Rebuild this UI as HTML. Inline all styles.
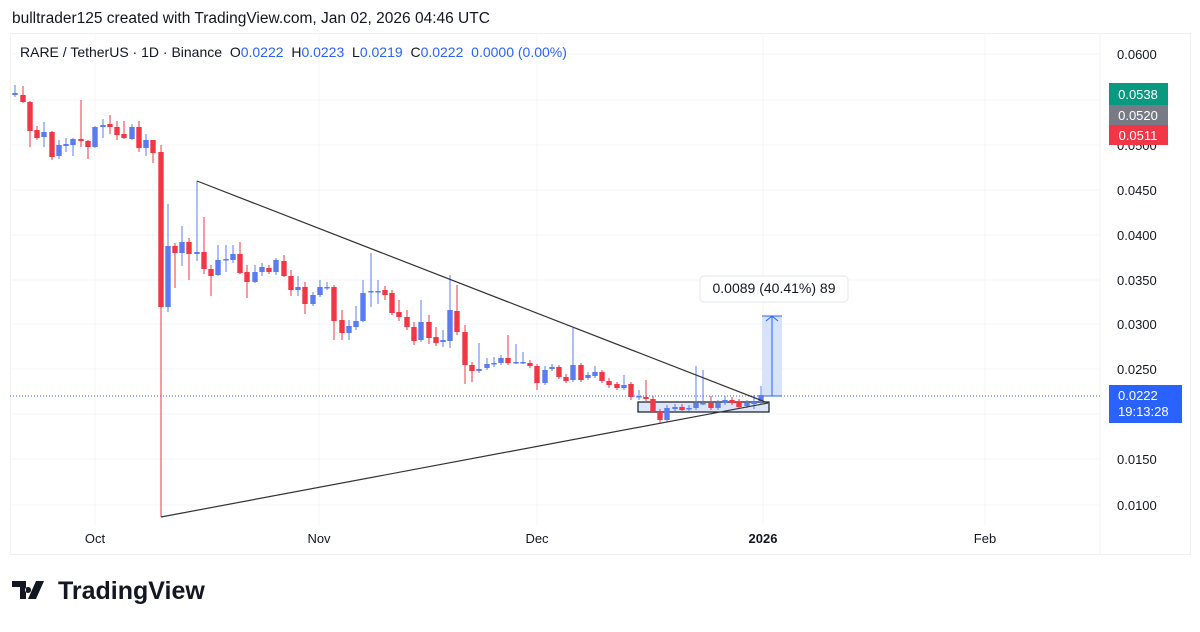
<!DOCTYPE html>
<html><head><meta charset="utf-8"><style>
body{margin:0;background:#fff;font-family:"Liberation Sans",sans-serif;}
svg text{font-family:"Liberation Sans",sans-serif;white-space:pre;}
</style></head><body>
<svg id="s" width="1200" height="627" xmlns="http://www.w3.org/2000/svg">
<rect width="1200" height="627" fill="#fff"/>
<text x="12" y="23" font-size="15.5" fill="#131722">bulltrader125 created with TradingView.com, Jan 02, 2026 04:46 UTC</text>
<rect x="10.5" y="33.5" width="1180" height="521" fill="#fff" stroke="#eef0f3"/>
<line x1="1100" y1="34" x2="1100" y2="554" stroke="#eef0f3"/>
<g id="grid" stroke="#f3f4f6"></g>
<text x="20" y="57" font-size="14" fill="#131722">RARE / TetherUS · 1D · Binance&#160;&#160;O<tspan fill="#2962ff">0.0222</tspan>&#160;&#160;H<tspan fill="#2962ff">0.0223</tspan>&#160;&#160;L<tspan fill="#2962ff">0.0219</tspan>&#160;&#160;C<tspan fill="#2962ff">0.0222</tspan>&#160;&#160;<tspan fill="#2962ff">0.0000 (0.00%)</tspan></text>
<g id="ax" font-size="13" fill="#131722"></g>
<line x1="10" y1="396" x2="1100" y2="396" stroke="#2962ff" stroke-dasharray="1,2" stroke-width="1"/>
<rect x="638" y="402" width="131" height="10" fill="#dbe6fb" stroke="#131722" stroke-width="1.2"/>
<rect x="762" y="316" width="20" height="80" fill="#d6e3fb"/>
<line x1="772" y1="316" x2="772" y2="396" stroke="#2962ff"/>
<path d="M766 321 L772 316 L778 321" fill="none" stroke="#2962ff"/>
<line x1="762" y1="316" x2="782" y2="316" stroke="#2962ff"/>
<line x1="762" y1="396" x2="782" y2="396" stroke="#2962ff"/>
<g id="c"></g>
<line x1="197" y1="181" x2="768" y2="403" stroke="#333" stroke-width="1.2"/>
<line x1="161" y1="517" x2="768" y2="403" stroke="#333" stroke-width="1.2"/>
<rect x="700" y="276" width="148" height="26" rx="4" fill="#fff" stroke="#e5e7eb"/>
<text x="774" y="293" font-size="14" fill="#131722" text-anchor="middle">0.0089 (40.41%) 89</text>
<rect x="1109" y="83" width="59" height="22" fill="#089981"/>
<text x="1138" y="99" font-size="13" fill="#fff" text-anchor="middle">0.0538</text>
<rect x="1109" y="105" width="59" height="20" fill="#787b86"/>
<text x="1138" y="120" font-size="13" fill="#fff" text-anchor="middle">0.0520</text>
<rect x="1109" y="125" width="59" height="20" fill="#f23645"/>
<text x="1138" y="140" font-size="13" fill="#fff" text-anchor="middle">0.0511</text>
<rect x="1109" y="385" width="73" height="38" fill="#2962ff"/>
<text x="1118" y="400" font-size="13" fill="#fff">0.0222</text>
<text x="1118" y="416" font-size="13" fill="#fff">19:13:28</text>
<text x="95" y="543" font-size="13" fill="#131722" text-anchor="middle">Oct</text>
<text x="319" y="543" font-size="13" fill="#131722" text-anchor="middle">Nov</text>
<text x="537" y="543" font-size="13" fill="#131722" text-anchor="middle">Dec</text>
<text x="763" y="543" font-size="13" fill="#131722" text-anchor="middle" font-weight="bold">2026</text>
<text x="985" y="543" font-size="13" fill="#131722" text-anchor="middle">Feb</text>
<path d="M12 581 h14 v18 h-6 v-12 h-8z M28 587 a3 3 0 1 0 0.1 0z M36 581 h8 l-8 18 h-8z" fill="#131722"/>
<text x="58" y="599" font-size="25" font-weight="bold" fill="#131722">TradingView</text>
</svg>
<script>
var NS="http://www.w3.org/2000/svg";
function el(p,t,a){var e=document.createElementNS(NS,t);for(var k in a)e.setAttribute(k,a[k]);p.appendChild(e);return e;}
var g=document.getElementById('grid'),ax=document.getElementById('ax');
[[54,"0.0600"],[145,"0.0500"],[190,"0.0450"],[235,"0.0400"],[280,"0.0350"],[324,"0.0300"],[369,"0.0250"],[414,""],[459,"0.0150"],[505,"0.0100"],[100,""]].forEach(function(t){
el(g,'line',{x1:11,y1:t[0],x2:1100,y2:t[0]});
if(t[1]){var x=el(ax,'text',{x:1117,y:t[0]+5});x.textContent=t[1];}
});
[95,319,537,763,985].forEach(function(x){el(g,'line',{x1:x,y1:34,x2:x,y2:525});});
var D=[[15,93,95,85,97,'b'],[23,95,102,86,103,'r'],[30,102,131,101,147,'r'],[37,130,138,126,140,'r'],[44,132,137,122,147,'b'],[52,132,157,131,160,'r'],[59,145,156,140,159,'b'],[66,144,146,138,152,'b'],[73,139,145,138,156,'b'],[81,139,141,100,147,'r'],[88,141,147,140,159,'r'],[95,127,147,126,148,'b'],[103,125,127,119,138,'b'],[110,124,127,115,134,'r'],[117,127,135,121,140,'r'],[124,134,138,121,139,'r'],[132,127,139,124,140,'b'],[139,127,148,121,152,'r'],[146,140,148,134,156,'b'],[153,140,153,144,163,'r'],[161,152,307,145,517,'r'],[168,246,307,204,312,'b'],[175,246,253,243,288,'r'],[182,242,253,226,266,'b'],[189,242,254,238,280,'r'],[197,252,254,181,261,'b'],[204,252,269,217,274,'r'],[211,269,276,265,296,'r'],[218,260,275,245,276,'b'],[226,259,260,245,272,'b'],[233,254,260,245,263,'b'],[240,254,273,242,274,'r'],[247,272,282,265,298,'r'],[255,272,282,265,283,'b'],[262,267,272,263,276,'b'],[269,268,272,265,274,'r'],[276,260,272,258,275,'b'],[284,261,276,255,277,'r'],[291,276,290,270,296,'r'],[298,287,290,276,296,'b'],[305,287,304,282,314,'r'],[313,295,304,292,306,'b'],[320,287,295,280,297,'b'],[327,287,288,282,290,'b'],[334,287,321,285,340,'r'],[342,320,333,310,340,'r'],[349,326,333,320,340,'b'],[356,321,327,306,330,'b'],[363,293,321,280,322,'b'],[371,291,292,253,307,'b'],[378,291,292,280,304,'b'],[385,290,295,286,300,'r'],[392,293,313,290,315,'r'],[399,312,317,300,321,'r'],[407,317,327,310,330,'r'],[414,327,341,322,345,'r'],[421,322,340,300,342,'b'],[429,322,338,315,344,'r'],[436,337,343,327,346,'r'],[443,340,342,330,347,'b'],[450,310,341,275,348,'b'],[457,311,332,285,335,'r'],[465,332,365,325,384,'r'],[472,365,371,362,382,'r'],[479,369,371,343,373,'b'],[487,364,368,358,370,'b'],[494,363,364,357,367,'b'],[501,358,363,355,365,'b'],[508,358,363,335,365,'r'],[516,362,363,344,364,'b'],[523,362,363,352,364,'b'],[530,363,366,360,368,'r'],[537,366,383,364,390,'r'],[545,370,383,366,385,'b'],[552,367,369,364,371,'b'],[559,367,377,365,379,'r'],[566,377,381,374,383,'r'],[573,365,380,328,382,'b'],[581,365,380,363,382,'r'],[588,375,378,372,380,'b'],[595,372,376,366,378,'b'],[602,372,381,370,383,'r'],[609,381,385,378,388,'r'],[617,384,388,382,390,'r'],[624,385,388,375,390,'b'],[631,384,397,382,400,'r'],[639,396,397,390,400,'b'],[646,397,399,380,401,'r'],[653,399,411,396,413,'r'],[660,411,420,409,423,'r'],[667,408,420,405,422,'b'],[675,407,409,404,411,'b'],[682,407,410,404,412,'r'],[689,408,409,405,411,'b'],[696,403,408,366,410,'b'],[703,403,404,370,405,'b'],[711,403,408,396,410,'r'],[718,403,408,400,410,'b'],[725,400,403,396,405,'b'],[732,400,403,397,405,'r'],[739,402,407,399,409,'r'],[747,403,406,400,408,'b'],[754,402,404,395,409,'b'],[761,395,402,386,404,'b']];
var c=document.getElementById('c');
D.forEach(function(d){var col=d[5]=='r'?'#f23645':'#5b7cf0';
el(c,'line',{x1:d[0],y1:d[3],x2:d[0],y2:d[4],stroke:col,'stroke-width':1});
el(c,'rect',{x:d[0]-2.7,y:d[1],width:5.4,height:Math.max(1.5,d[2]-d[1]),fill:col});});
</script>
</body></html>
